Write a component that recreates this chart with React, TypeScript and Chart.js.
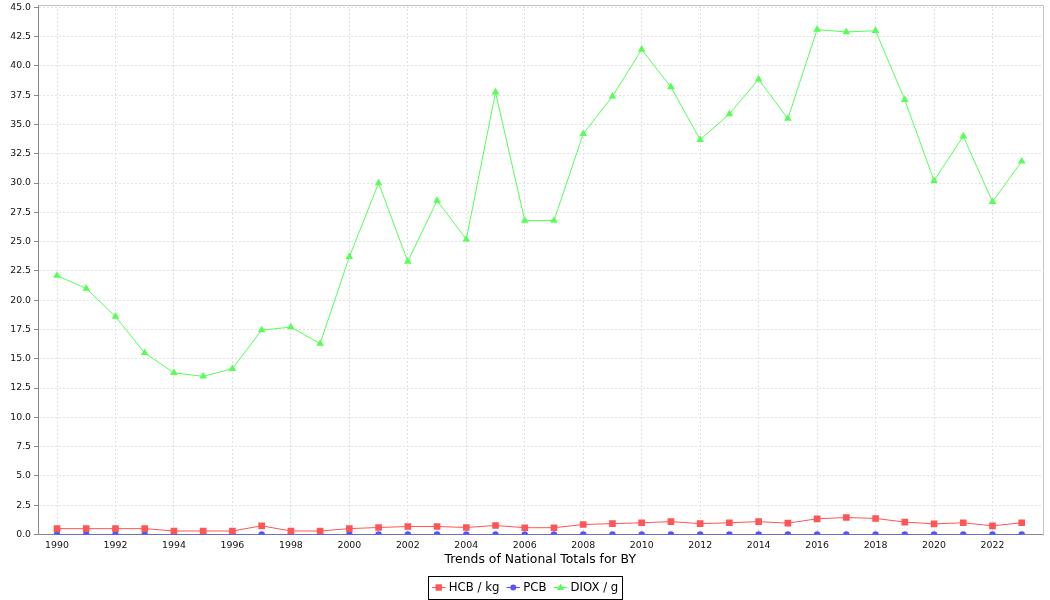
import React, { useEffect, useRef } from 'react';
import { Chart, registerables } from 'chart.js';

Chart.register(...registerables);

const years = [
  1990, 1991, 1992, 1993, 1994, 1995, 1996, 1997, 1998, 1999,
  2000, 2001, 2002, 2003, 2004, 2005, 2006, 2007, 2008, 2009,
  2010, 2011, 2012, 2013, 2014, 2015, 2016, 2017, 2018, 2019,
  2020, 2021, 2022, 2023,
];

const hcbKg = [
  0.5, 0.5, 0.5, 0.5, 0.3, 0.3, 0.3, 0.74, 0.3, 0.3,
  0.5, 0.6, 0.68, 0.68, 0.6, 0.77, 0.58, 0.58, 0.85, 0.93,
  1.0, 1.1, 0.93, 1.0, 1.1, 0.97, 1.34, 1.45, 1.37, 1.06,
  0.91, 1.0, 0.74, 1.0,
];

const pcb = [
  0, 0, 0, 0, 0, 0, 0, 0, 0, 0,
  0, 0, 0, 0, 0, 0, 0, 0, 0, 0,
  0, 0, 0, 0, 0, 0, 0, 0, 0, 0,
  0, 0, 0, 0,
];

const dioxG = [
  22.1, 21.0, 18.6, 15.5, 13.8, 13.5, 14.15, 17.45, 17.7, 16.3,
  23.7, 30.0, 23.3, 28.5, 25.2, 37.75, 26.8, 26.8, 34.2, 37.4,
  41.4, 38.2, 33.7, 35.9, 38.85, 35.5, 43.1, 42.9, 43.0, 37.1,
  30.2, 34.0, 28.4, 31.85,
];

const xTickYears = [
  1990, 1992, 1994, 1996, 1998, 2000, 2002, 2004, 2006, 2008,
  2010, 2012, 2014, 2016, 2018, 2020, 2022,
];

const yTickValues = [
  0, 2.5, 5, 7.5, 10, 12.5, 15, 17.5, 20, 22.5,
  25, 27.5, 30, 32.5, 35, 37.5, 40, 42.5, 45,
];

const seriesLabels = ['HCB / kg', 'PCB', 'DIOX / g'];
const xAxisTitle = 'Trends of National Totals for BY';

const RED = '#FF5555';
const BLUE = '#5555FF';
const GREEN = '#55FF55';
const FAMILY = '"DejaVu Sans", sans-serif';
const GRID = '#e2e2e2';
const AXIS = '#888888';

function drawMarker(ctx: CanvasRenderingContext2D, kind: string, x: number, y: number, color: string) {
  ctx.fillStyle = color;
  if (kind === 'rect') {
    ctx.fillRect(x - 3.2, y - 3.2, 6.4, 6.4);
  } else if (kind === 'circle') {
    ctx.beginPath();
    ctx.arc(x, y, 3, 0, Math.PI * 2);
    ctx.fill();
  } else {
    ctx.beginPath();
    ctx.moveTo(x, y - 4);
    ctx.lineTo(x + 3.7, y + 2.6);
    ctx.lineTo(x - 3.7, y + 2.6);
    ctx.closePath();
    ctx.fill();
  }
}

const framePlugin = {
  id: 'frameAndLegend',
  beforeDatasetsDraw(chart: any) {
    const { ctx, chartArea } = chart;
    ctx.save();
    ctx.strokeStyle = '#c4c4c4';
    ctx.lineWidth = 1;
    ctx.beginPath();
    ctx.moveTo(Math.round(chartArea.left) + 0.5, Math.round(chartArea.top) + 0.5);
    ctx.lineTo(Math.round(chartArea.right) + 0.5, Math.round(chartArea.top) + 0.5);
    ctx.lineTo(Math.round(chartArea.right) + 0.5, Math.round(chartArea.bottom) + 0.5);
    ctx.stroke();
    ctx.restore();
  },
  afterDraw(chart: any) {
    const ctx: CanvasRenderingContext2D = chart.ctx;
    ctx.save();
    ctx.font = `11.7px ${FAMILY}`;
    const items = [
      { text: seriesLabels[0], color: RED, kind: 'rect' },
      { text: seriesLabels[1], color: BLUE, kind: 'circle' },
      { text: seriesLabels[2], color: GREEN, kind: 'triangle' },
    ];
    const padL = 4;
    const lineW = 13.5;
    const gapText = 3.3;
    const gapItem = 7.2;
    const padR = 4;
    let total = padL + padR;
    items.forEach((it, i) => {
      total += lineW + gapText + ctx.measureText(it.text).width;
      if (i < items.length - 1) total += gapItem;
    });
    const cx = 525;
    const left = Math.round(cx - total / 2);
    const top = 576;
    const h = 23;
    const midY = top + h / 2 - 0.2;
    ctx.strokeStyle = '#000';
    ctx.lineWidth = 1;
    ctx.strokeRect(left + 0.5, top + 0.5, Math.round(total), h);
    let x = left + padL;
    items.forEach((it) => {
      ctx.strokeStyle = it.color;
      ctx.lineWidth = 1;
      ctx.beginPath();
      ctx.moveTo(x, Math.round(midY) + 0.5);
      ctx.lineTo(x + lineW, Math.round(midY) + 0.5);
      ctx.stroke();
      drawMarker(ctx, it.kind, x + lineW / 2, Math.round(midY) + 0.5, it.color);
      x += lineW + gapText;
      ctx.fillStyle = '#000';
      ctx.textBaseline = 'middle';
      ctx.textAlign = 'left';
      ctx.fillText(it.text, x, midY + 0.5);
      x += ctx.measureText(it.text).width + gapItem;
    });
    ctx.restore();
  },
};

export default function App() {
  const canvasRef = useRef<HTMLCanvasElement>(null);

  useEffect(() => {
    const canvas = canvasRef.current;
    if (!canvas) return;
    const mk = (vals: number[]) => years.map((yr, i) => ({ x: yr, y: vals[i] }));
    const chart = new Chart(canvas, {
      type: 'line',
      data: {
        datasets: [
          {
            label: seriesLabels[0],
            data: mk(hcbKg),
            borderColor: RED,
            backgroundColor: RED,
            pointStyle: 'rect',
            pointRadius: 4.7,
            pointBorderWidth: 0,
            borderWidth: 1,
            tension: 0,
            clip: 0,
          },
          {
            label: seriesLabels[1],
            data: mk(pcb),
            borderColor: BLUE,
            backgroundColor: BLUE,
            pointStyle: 'circle',
            pointRadius: 3.2,
            pointBorderWidth: 0,
            borderWidth: 1,
            tension: 0,
            clip: 0,
          },
          {
            label: seriesLabels[2],
            data: mk(dioxG),
            borderColor: GREEN,
            backgroundColor: GREEN,
            pointStyle: 'triangle',
            pointRadius: 4.4,
            pointBorderWidth: 0,
            borderWidth: 1,
            tension: 0,
            clip: 0,
          },
        ],
      } as any,
      options: {
        animation: false,
        responsive: false,
        devicePixelRatio: 1,
        layout: { padding: { left: 0, right: 7.5, top: 5, bottom: 30 } },
        plugins: {
          legend: { display: false },
          tooltip: { enabled: false },
        },
        scales: {
          x: {
            type: 'linear',
            min: 1989.35,
            max: 2023.71,
            afterBuildTicks: (s: any) => {
              s.ticks = xTickYears.map((v) => ({ value: v }));
            },
            afterFit: (s: any) => {
              s.height = 35.5;
              s.paddingLeft = 0;
              s.paddingRight = 0;
            },
            ticks: {
              font: { family: FAMILY, size: 9.4 },
              color: '#111',
              padding: 5,
              autoSkip: false,
              maxRotation: 0,
              callback: (v: any) => String(v),
            },
            grid: { color: GRID, lineWidth: 1, drawTicks: false },
            border: { color: AXIS, dash: [2, 2] },
            title: {
              display: true,
              text: xAxisTitle,
              font: { family: FAMILY, size: 12.4 },
              color: '#000',
              padding: { top: 0, bottom: 2.3 },
            },
          },
          y: {
            type: 'linear',
            min: 0,
            max: 45.2,
            afterBuildTicks: (s: any) => {
              s.ticks = yTickValues.map((v) => ({ value: v }));
            },
            afterFit: (s: any) => {
              s.width = 38;
              s.paddingTop = 0;
              s.paddingBottom = 0;
            },
            ticks: {
              font: { family: FAMILY, size: 9.3 },
              color: '#111',
              padding: 3,
              callback: (v: any) => Number(v).toFixed(1),
            },
            grid: { color: GRID, lineWidth: 1, drawTicks: true, tickLength: 4, tickColor: AXIS },
            border: { color: AXIS, dash: [2, 2] },
          },
        },
      } as any,
      plugins: [framePlugin],
    });
    return () => chart.destroy();
  }, []);

  return (
    <div style={{ position: 'fixed', left: 0, top: 0, width: 1050, height: 600, background: '#fff' }}>
      <canvas ref={canvasRef} width={1050} height={600} style={{ display: 'block', width: 1050, height: 600 }} />
    </div>
  );
}
